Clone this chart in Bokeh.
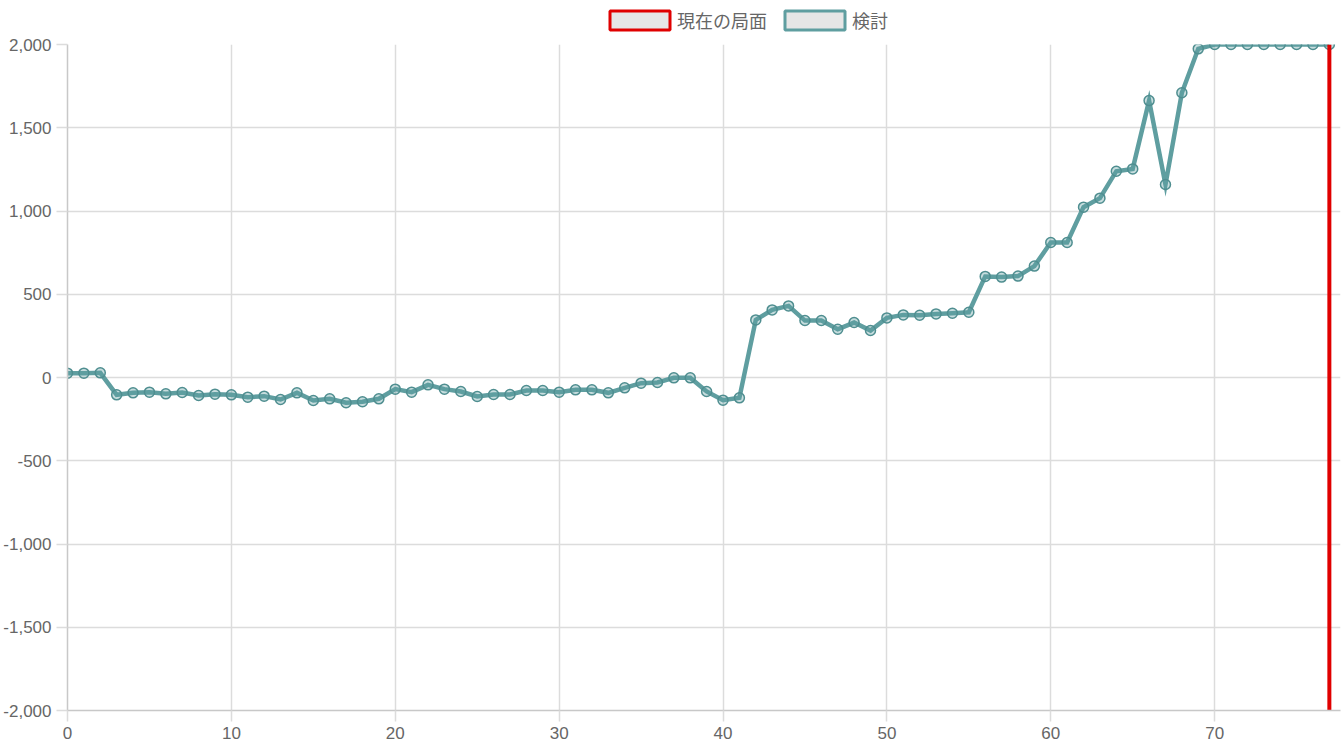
from bokeh.plotting import figure
from bokeh.layouts import column
from bokeh.models import Range1d, FixedTicker, NumeralTickFormatter, Legend, LegendItem
from bokeh.embed import file_html
from bokeh.resources import INLINE

# ---- data ----
moves = list(range(78))
evals = [26, 26, 28, -104, -92, -88, -98, -90, -108, -100,
         -104, -118, -112, -132, -92, -138, -128, -152, -146, -128,
         -70, -88, -44, -70, -84, -114, -102, -102, -78, -78,
         -88, -74, -74, -92, -62, -34, -30, -2, -2, -84,
         -136, -122, 346, 406, 430, 342, 342, 290, 330, 282,
         358, 376, 374, 382, 386, 392, 607, 603, 609, 669,
         811, 811, 1023, 1077, 1239, 1253, 1663, 1159, 1710, 1974,
         2000, 2000, 2000, 2000, 2000, 2000, 2000, 2000]
current_x = [77, 77]
current_y = [-2000, 2000]
x_ticks = [0, 10, 20, 30, 40, 50, 60, 70]
y_ticks = [-2000, -1500, -1000, -500, 0, 500, 1000, 1500, 2000]
legend_labels = ["現在の局面", "検討"]

TEAL = "#5f9ea0"
RED = "#e00000"
GRID = "#dcdcdc"
W = 1341
LEG_H = 33

# ---- legend strip (separate figure on top) ----
lf = figure(width=W, height=LEG_H, output_backend="svg", toolbar_location=None,
            x_range=Range1d(0, W), y_range=Range1d(0, LEG_H), min_border=0,
            x_axis_location=None, y_axis_location=None)
lf.grid.visible = False
lf.outline_line_color = None
red_box = lf.rect(x=current_x[:1], y=current_y[:1], width=0, height=0,
                  fill_color="#e6e6e6", line_color=RED, line_width=3, visible=False)
teal_box = lf.rect(x=moves[:1], y=evals[:1], width=0, height=0,
                   fill_color="#e6e6e6", line_color=TEAL, line_width=3, visible=False)
legend = Legend(items=[LegendItem(label=legend_labels[0], renderers=[red_box]),
                       LegendItem(label=legend_labels[1], renderers=[teal_box])],
                orientation="horizontal", location=(535, 0))
legend.glyph_width = 75
legend.glyph_height = 24
legend.label_height = 24
legend.label_standoff = 0
legend.spacing = 10
legend.padding = 0
legend.margin = 0
legend.border_line_alpha = 0
legend.background_fill_alpha = 0
legend.label_text_font = "Noto Sans CJK JP"
legend.label_text_font_size = "18px"
legend.label_text_color = "#666666"
legend.click_policy = "none"
lf.add_layout(legend)

# ---- main chart ----
p = figure(width=W, height=747 - LEG_H, output_backend="svg", toolbar_location=None,
           x_range=Range1d(0, 77.68), y_range=Range1d(-2000, 2000),
           min_border_left=66, min_border_top=44 - LEG_H, min_border_right=1,
           min_border_bottom=37)
p.outline_line_color = None
p.background_fill_color = "white"

for ax, ticks in ((p.xaxis, x_ticks), (p.yaxis, y_ticks)):
    ax.ticker = FixedTicker(ticks=ticks)
    ax.minor_tick_line_color = None
    ax.major_tick_in = 0
    ax.major_tick_out = 11
    ax.major_tick_line_color = GRID
    ax.major_tick_line_width = 1.5
    ax.axis_line_color = "#c8c8c8"
    ax.axis_line_width = 1.5
    ax.major_label_text_font = "Liberation Sans"
    ax.major_label_text_font_size = "17px"
    ax.major_label_text_color = "#666666"
    ax.major_label_standoff = 5
p.yaxis.formatter = NumeralTickFormatter(format="0,0")

p.xgrid.ticker = FixedTicker(ticks=x_ticks)
p.ygrid.ticker = FixedTicker(ticks=y_ticks)
p.grid.grid_line_color = GRID
p.grid.grid_line_width = 1.5

p.line(moves, evals, line_color=TEAL, line_width=4.5, line_join="miter")
p.scatter(moves, evals, size=10, fill_color=TEAL, fill_alpha=0.35,
          line_color="#4f8e90", line_width=1.5)
p.line(current_x, current_y, line_color=RED, line_width=4)

layout = column(lf, p, spacing=0)
open("out.html", "w").write(file_html(layout, INLINE))
